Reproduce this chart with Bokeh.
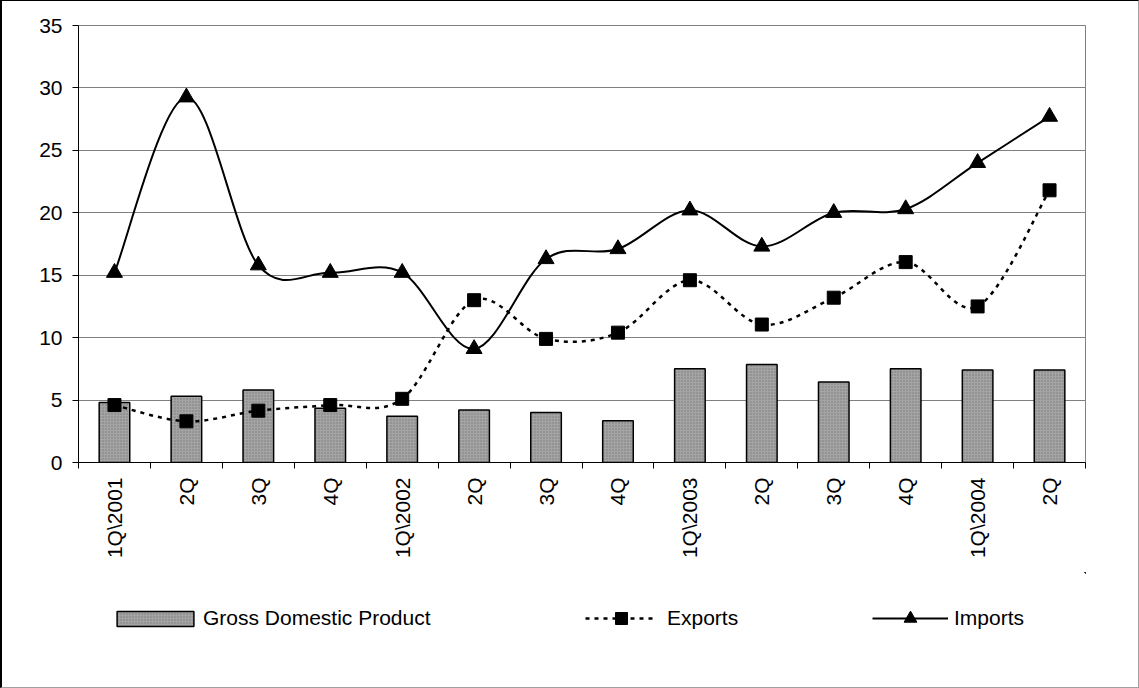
import numpy as np
from bokeh.plotting import figure
from bokeh.layouts import column
from bokeh.models import FixedTicker, Legend, LegendItem, Range1d, ColumnDataSource
from bokeh.embed import file_html
from bokeh.resources import INLINE

# ---- data ----
quarters = ["1Q\\2001", "2Q", "3Q", "4Q", "1Q\\2002", "2Q", "3Q", "4Q",
            "1Q\\2003", "2Q", "3Q", "4Q", "1Q\\2004", "2Q"]
gdp = [4.8, 5.3, 5.8, 4.35, 3.7, 4.2, 4.0, 3.35, 7.5, 7.85, 6.45, 7.5, 7.4, 7.4]
exports = [4.6, 3.3, 4.15, 4.6, 5.1, 13.0, 9.9, 10.4, 14.6, 11.05, 13.2, 16.05, 12.5, 21.8]
imports = [15.2, 29.25, 15.8, 15.2, 15.2, 9.1, 16.3, 17.1, 20.2, 17.3, 20.0, 20.3, 24.0, 27.7]
y_ticks = [0, 5, 10, 15, 20, 25, 30, 35]

FONT = "Liberation Sans"
FS = "21px"

n = len(quarters)
xc = np.arange(n) + 0.5          # category centres
xb = np.arange(n + 1)            # category boundaries


def smooth_segments(x, y):
    """Bezier control points for a smoothed (Catmull-Rom style) line."""
    x = np.asarray(x, float)
    y = np.asarray(y, float)
    m = len(x)
    d = dict(x0=[], y0=[], x1=[], y1=[], cx0=[], cy0=[], cx1=[], cy1=[])
    for i in range(m - 1):
        i0 = max(i - 1, 0)
        i3 = min(i + 2, m - 1)
        d["x0"].append(x[i]); d["y0"].append(y[i])
        d["x1"].append(x[i + 1]); d["y1"].append(y[i + 1])
        d["cx0"].append(x[i] + (x[i + 1] - x[i0]) / 6)
        d["cy0"].append(y[i] + (y[i + 1] - y[i0]) / 6)
        d["cx1"].append(x[i + 1] - (x[i3] - x[i]) / 6)
        d["cy1"].append(y[i + 1] - (y[i3] - y[i]) / 6)
    return d


BAR_STYLE = dict(fill_color="#a4a4a4", line_color="black", line_width=1.5,
                 hatch_pattern="dot", hatch_color="#7a7a7a", hatch_scale=3)
EXP_LINE = dict(line_color="black", line_width=2.5, line_dash="4 5")
IMP_LINE = dict(line_color="black", line_width=2)
BEZ = dict(x0="x0", y0="y0", x1="x1", y1="y1", cx0="cx0", cy0="cy0", cx1="cx1", cy1="cy1")


def draw_series(fig):
    b = fig.vbar(x=xc, top=gdp, width=0.425, bottom=0, **BAR_STYLE)
    ec = fig.bezier(source=ColumnDataSource(smooth_segments(xc, exports)), **BEZ, **EXP_LINE)
    ep = fig.scatter(x=xc, y=exports, marker="square", size=13,
                     fill_color="black", line_color="black")
    ic = fig.bezier(source=ColumnDataSource(smooth_segments(xc, imports)), **BEZ, **IMP_LINE)
    ip = fig.scatter(x=xc, y=imports, marker="triangle", size=16,
                     fill_color="black", line_color="black")
    return b, ec, ep, ic, ip


MAIN_H = 571
p = figure(width=1136, height=MAIN_H, output_backend="svg", toolbar_location=None,
           x_range=Range1d(0, n), y_range=Range1d(0, 35),
           min_border_left=76, min_border_right=53, min_border_top=24,
           min_border_bottom=MAIN_H - 24 - 437)

p.outline_line_color = "#808080"
p.outline_line_width = 1
p.background_fill_color = "white"
p.border_fill_color = "white"

# grid
p.xgrid.visible = False
p.ygrid.ticker = FixedTicker(ticks=y_ticks)
p.ygrid.grid_line_color = "#808080"
p.ygrid.grid_line_width = 1

# y axis
p.yaxis.ticker = FixedTicker(ticks=y_ticks)
p.yaxis.axis_line_color = "black"
p.yaxis.major_tick_out = 6
p.yaxis.major_tick_in = 0
p.yaxis.minor_tick_out = 0
p.yaxis.minor_tick_in = 0
p.yaxis.major_label_standoff = 10
p.yaxis.major_label_text_font = FONT
p.yaxis.major_label_text_font_size = FS
p.yaxis.major_label_text_color = "black"

# x axis: labels at centres, tick marks at boundaries
p.xaxis.ticker = FixedTicker(ticks=list(xc), minor_ticks=list(xb))
p.xaxis.major_label_overrides = {float(v): lab for v, lab in zip(xc, quarters)}
p.xaxis.major_tick_out = 0
p.xaxis.major_tick_in = 0
p.xaxis.minor_tick_out = 6
p.xaxis.minor_tick_in = 0
p.xaxis.minor_tick_line_color = "black"
p.xaxis.axis_line_color = "black"
p.xaxis.major_label_orientation = np.pi / 2
p.xaxis.major_label_standoff = 9
p.xaxis.major_label_text_font = FONT
p.xaxis.major_label_text_font_size = FS
p.xaxis.major_label_text_color = "black"

draw_series(p)

# ---- legend strip (its own figure; its series lie outside its visible ranges) ----
LEG_H = 686 - MAIN_H
lf = figure(width=1136, height=LEG_H, output_backend="svg", toolbar_location=None,
            x_range=Range1d(-200, -100), y_range=Range1d(-200, -100),
            min_border=0, min_border_left=0, min_border_right=0,
            min_border_top=0, min_border_bottom=0)
lf.axis.visible = False
lf.grid.visible = False
lf.outline_line_color = None
lf.background_fill_color = "white"
lf.border_fill_color = "white"
lb, lec, lep, lic, lip = draw_series(lf)


def make_legend(label, renderers, loc, gw, gh, standoff):
    lg = Legend(items=[LegendItem(label=label, renderers=renderers)],
                location=loc, orientation="horizontal")
    lg.margin = 0
    lg.padding = 0
    lg.glyph_width = gw
    lg.glyph_height = gh
    lg.label_standoff = standoff
    lg.label_text_font = FONT
    lg.label_text_font_size = FS
    lg.label_text_color = "black"
    lg.border_line_color = None
    lg.background_fill_alpha = 0
    lf.add_layout(lg)
    return lg


make_legend("Gross Domestic Product", [lb], (29, 57), 96, 19, 0)
make_legend("Exports", [lec, lep], (507, 54), 72, 30, 10)
make_legend("Imports", [lic, lip], (794, 53), 76, 32, 6)

layout = column(p, lf, spacing=0,
                styles={"border-left": "2px solid #000", "border-top": "1px solid #000",
                        "border-right": "1px solid #a0a0a0",
                        "border-bottom": "1px solid #a0a0a0",
                        "background-color": "white"})

open("out.html", "w").write(file_html(layout, INLINE))
